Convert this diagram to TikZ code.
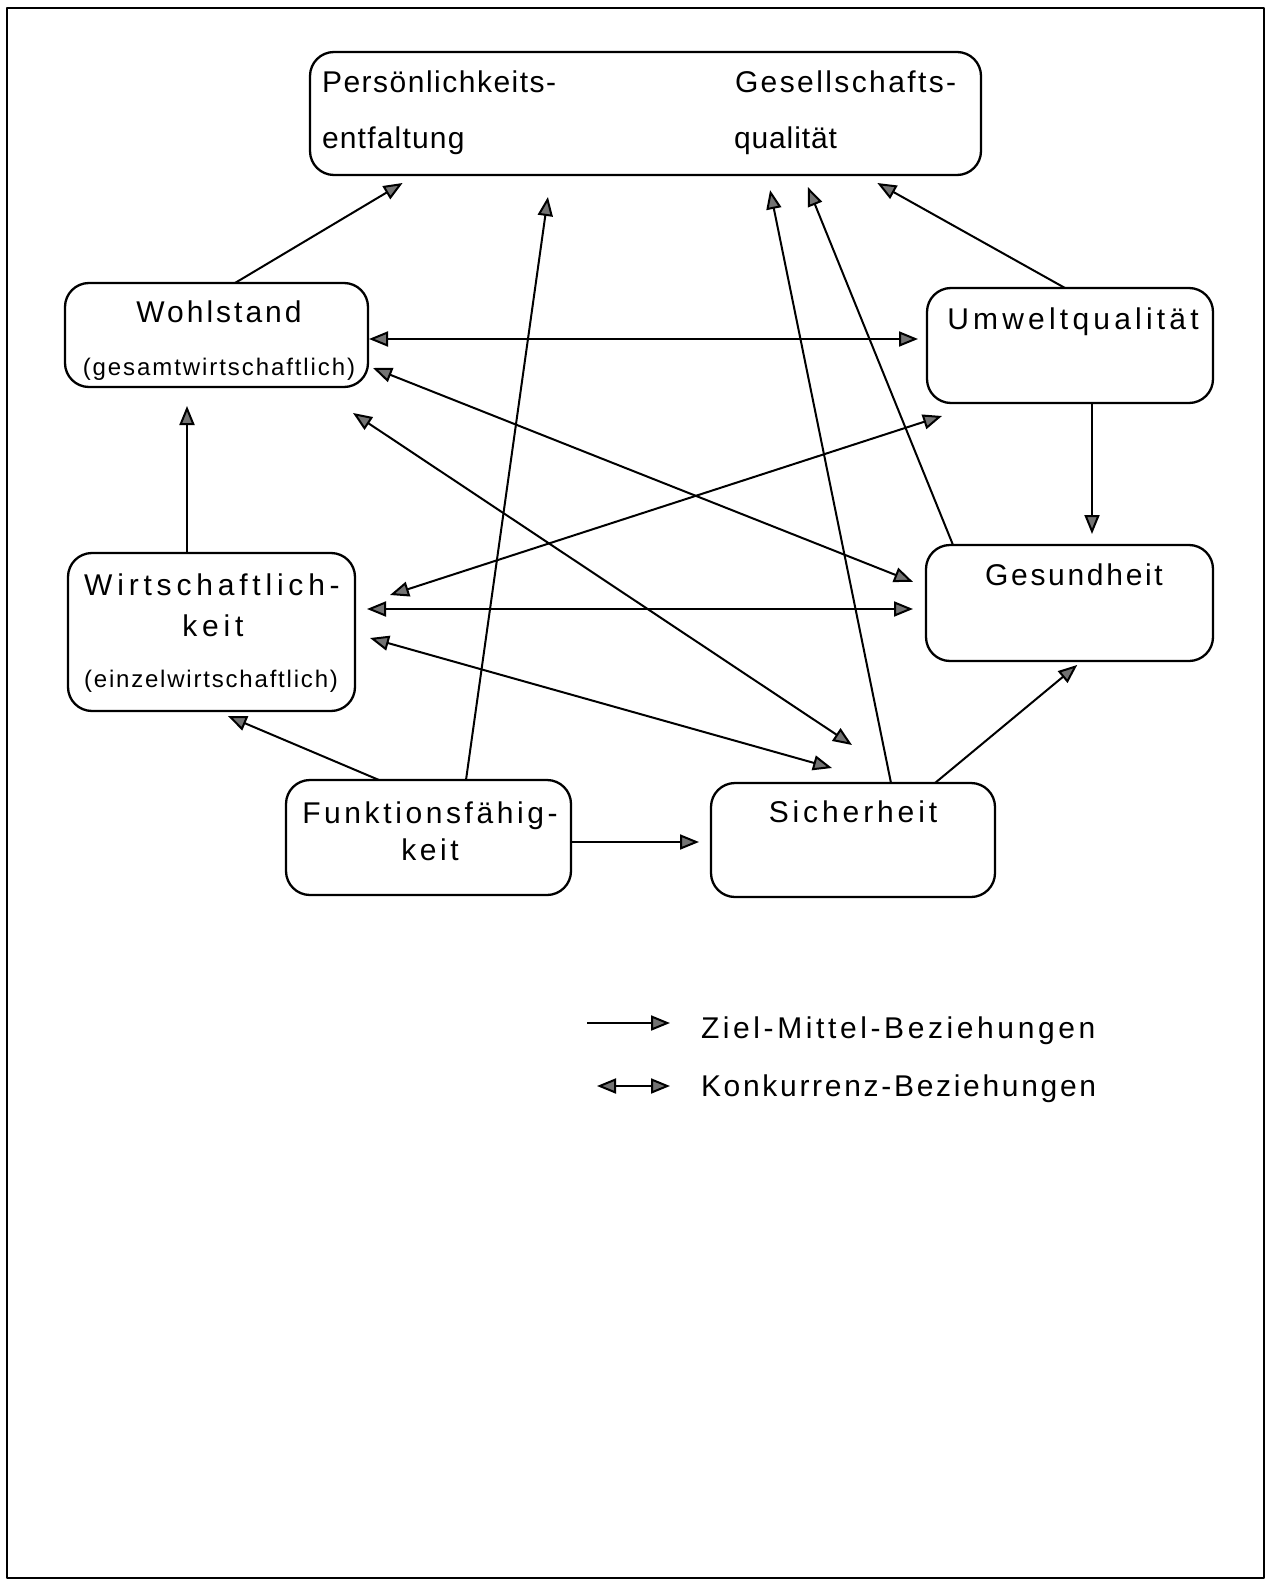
\documentclass[tikz,border=0pt]{standalone}
\usepackage{fontspec}
\setmainfont{Liberation Sans}
\usetikzlibrary{arrows.meta,calc}
\newcommand\lsp[1]{\addfontfeatures{LetterSpace=#1}}
\begin{document}
\begin{tikzpicture}[x=0.5pt,y=-0.5pt,
  >={Triangle[length=9.5pt,width=7.5pt,fill=black!55]},
  line width=1pt, line join=round,
  box/.style={draw, line width=1.15pt, rounded corners=12pt, inner sep=0pt, outer sep=0pt},
  lbl/.style={inner sep=0pt, font=\fontsize{15pt}{17pt}\selectfont},
  slbl/.style={inner sep=0pt, font=\fontsize{12pt}{14pt}\selectfont},
  zm/.style={->}, kz/.style={<->}]
\useasboundingbox (0,0) rectangle (1271,1583);
\draw[line width=1.3pt] (7,8) rectangle (1264,1578);

% boxes
\node[box, minimum width=335.5pt, minimum height=61.5pt] (top) at (645.5,113.5) {};
\node[box, minimum width=151.5pt, minimum height=52pt] (wohl) at (216.5,335) {};
\node[box, minimum width=143pt, minimum height=57.5pt] (umw) at (1070,345.5) {};
\node[box, minimum width=143.5pt, minimum height=79pt] (wirt) at (211.5,632) {};
\node[box, minimum width=143.5pt, minimum height=58pt] (ges) at (1069.5,603) {};
\node[box, minimum width=142.5pt, minimum height=57.5pt] (funk) at (428.5,837.5) {};
\node[box, minimum width=142pt, minimum height=57pt] (sich) at (853,840) {};

% labels
\node[lbl, anchor=base west] (t1) at (321,93) {\lsp{5}Persönlichkeits-};
\node[lbl, anchor=base west] (t2) at (321,149) {\lsp{4}entfaltung};
\node[lbl, anchor=base west] (t3) at (734,93) {\lsp{8}Gesellschafts-};
\node[lbl, anchor=base west] (t4) at (733,149) {\lsp{3}qualität};
\node[lbl, anchor=base] (t5) at (219,323) {\lsp{10}Wohlstand};
\node[slbl, anchor=base] (t6) at (219,375) {\lsp{8}(gesamtwirtschaftlich)};
\node[lbl, anchor=base] (t7) at (1073,329) {\lsp{14}Umweltqualität};
\node[lbl, anchor=base] (t8) at (212,595) {\lsp{16}Wirtschaftlich-};
\node[lbl, anchor=base] (t9) at (213,636) {\lsp{16}keit};
\node[slbl, anchor=base] (t10) at (211,687) {\lsp{7.5}(einzelwirtschaftlich)};
\node[lbl, anchor=base] (t11) at (1074,585) {\lsp{9}Gesundheit};
\node[lbl, anchor=base] (t12) at (430,823) {\lsp{12}Funktionsfähig-};
\node[lbl, anchor=base] (t13) at (430,860) {\lsp{12}keit};
\node[lbl, anchor=base] (t14) at (853,822) {\lsp{13}Sicherheit};

% Ziel-Mittel connectors
\draw[zm, shorten >=7.8pt] (wohl.north -| 235,0) -- (top.south -| 416,0);
\draw[zm, shorten >=11.1pt] (funk.north -| 466,0) -- (top.south -| 551,0);
\draw[zm, shorten >=7.7pt] (sich.north -| 891,0) -- (top.south -| 767,0);
\draw[zm, shorten >=6.5pt] (ges.north -| 953,0) -- (top.south -| 803,0);
\draw[zm, shorten >=8.2pt] (umw.north -| 1065,0) -- (top.south -| 863,0);
\draw[zm, shorten >=9.5pt] (wirt.north -| 187,0) -- (wohl.south -| 187,0);
\draw[zm, shorten >=5.5pt] (umw.south -| 1092,0) -- (ges.north -| 1092,0);
\draw[zm, shorten >=6.4pt] (funk.north -| 379,0) -- (wirt.south -| 216,0);
\draw[zm, shorten >=6pt] (funk.east |- 0,842) -- (sich.west |- 0,842);
\draw[zm, shorten >=3.1pt] (sich.north -| 935,0) -- (ges.south -| 1082,0);

% Konkurrenz connectors
\draw[kz, shorten <=0.5pt, shorten >=4.5pt] (wohl.east |- 0,339) -- (umw.west |- 0,339);
\draw[kz, shorten <=2.7pt, shorten >=7pt] (wohl.east |- 0,366) -- (ges.west |- 0,587);
\draw[kz] ($(wohl.south east)+(-15,26)$) -- ($(sich.north west)+(141,-38)$);
\draw[kz] ($(umw.south west)+(15,13)$) -- ($(wirt.east)+(35,-37)$);
\draw[kz, shorten <=6pt, shorten >=6.5pt] (wirt.east |- 0,609) -- (ges.west |- 0,609);
\draw[kz] ($(wirt.east)+(15,6)$) -- ($(sich.north west)+(121,-15)$);

% legend
\coordinate (l1a) at (587,1023);
\coordinate (l1b) at (670,1023);
\coordinate (l2a) at (597,1086);
\coordinate (l2b) at (670,1086);
\draw[zm] (l1a) -- (l1b);
\draw[kz] (l2a) -- (l2b);
\node[lbl, anchor=base west] (leg1) at (700,1038) {\lsp{12}Ziel-Mittel-Beziehungen};
\node[lbl, anchor=base west] (leg2) at (700,1096) {\lsp{9}Konkurrenz-Beziehungen};
\end{tikzpicture}
\end{document}
